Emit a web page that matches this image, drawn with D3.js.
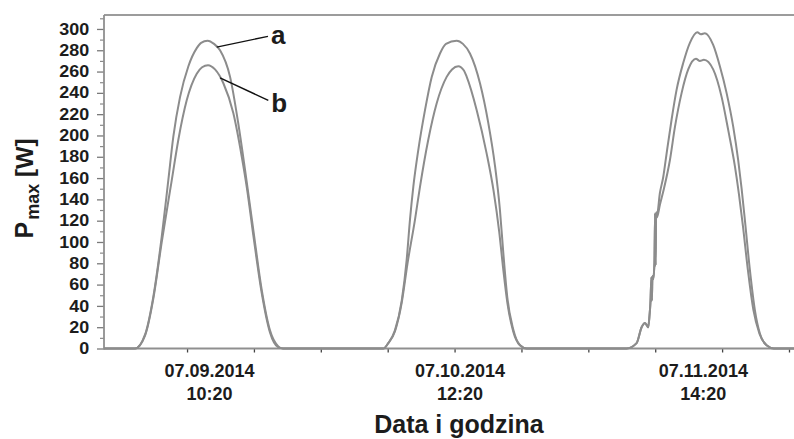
<!DOCTYPE html>
<html><head><meta charset="utf-8">
<script src="https://cdn.jsdelivr.net/npm/d3@7"></script>
<style>
html,body{margin:0;padding:0;background:#fff;}
svg{display:block;}
text{font-family:"Liberation Sans",Arial,sans-serif;font-weight:bold;fill:#1c1c1c;}
</style></head><body>
<svg id="chart" width="794" height="439"></svg>
<script>
// time axis in hours (concatenated measurement days), power in W
const seriesA = [
[-1.45,0],[1.34,0],[2.23,13],[2.98,49],[3.73,105],[4.32,158],[4.77,199],[5.37,236],[6.12,265],[6.87,282],[7.26,287],[7.84,289],[8.42,286],[8.96,280],[9.86,255],[10.60,211],[11.20,168],[11.95,111],[12.70,55],[13.44,17],[14.19,2],[14.61,0],
[23.61,0],[24.05,5],[24.65,17],[25.26,45],[25.70,83],[26.00,121],[26.30,152],[26.74,186],[27.35,224],[27.95,255],[28.69,277],[29.23,286],[30.19,289],[30.75,286],[31.38,277],[32.28,249],[33.02,212],[33.62,172],[34.07,130],[34.37,90],[34.73,48],[35.26,18],[35.87,3],[36.47,0],
[45.43,0],[46.33,5],[46.78,20],[47.08,24],[47.37,20],[47.48,30],[47.57,43],[47.66,67],[47.70,45],[47.75,68],[47.82,65],[47.93,80],[47.99,127],[48.03,78],[48.08,128],[48.15,125],[48.42,146],[48.72,161],[49.02,183],[49.47,215],[49.92,243],[50.51,268],[51.11,287],[51.77,297],[52.10,295],[52.46,296],[53.20,285],[53.80,265],[54.40,240],[55.00,208],[55.44,177],[55.75,150],[56.04,121],[56.49,74],[56.94,36],[57.39,14],[57.99,3],[58.65,0],[60.45,0]
];
const seriesB = [
[-1.45,0],[1.34,0],[2.23,12],[2.98,47],[3.73,100],[4.63,158],[5.22,196],[5.97,233],[6.87,258],[7.35,264],[7.88,266],[8.51,262],[9.26,249],[10.15,221],[10.91,180],[11.38,150],[11.95,106],[12.70,52],[13.44,15],[14.19,1],[14.61,0],
[23.61,0],[24.05,5],[24.65,16],[25.26,43],[25.78,80],[26.45,121],[26.90,152],[27.64,196],[28.39,230],[29.29,255],[29.77,262],[30.33,265],[30.84,261],[31.09,255],[31.98,224],[32.88,183],[33.50,148],[34.00,110],[34.35,76],[34.75,42],[35.26,16],[35.87,3],[36.47,0],
[45.43,0],[46.33,5],[46.78,20],[47.08,24],[47.37,20],[47.48,30],[47.57,43],[47.66,67],[47.70,45],[47.75,68],[47.82,65],[47.93,80],[47.99,127],[48.03,78],[48.08,126],[48.15,123],[48.42,135],[48.78,150],[49.32,177],[49.77,208],[50.37,240],[50.96,262],[51.65,272],[52.01,270],[52.37,271],[53.20,262],[53.96,236],[54.55,205],[55.15,171],[55.51,145],[55.87,115],[56.31,74],[56.81,36],[57.35,14],[57.99,3],[58.65,0],[60.45,0]
];
const yTickValues = [0,20,40,60,80,100,120,140,160,180,200,220,240,260,280,300];
const yMinorTickValues = [10,30,50,70,90,110,130,150,170,190,210,230,250,270,290,310];
const xTickValues = [6,12,18,24,30,36,42,48,54,60];
const dayLabels = ["07.09.2014","07.10.2014","07.11.2014"];
const timeLabels = ["10:20","12:20","14:20"];
const labelHours = [8.02,30.48,52.32];
const annotations = [
  {name:"a", from:[8.66,283], to:[13.26,293]},
  {name:"b", from:[8.96,254], to:[13.29,233]}
];
const yTitleMain = "P", yTitleSub = "max", yTitleUnit = " [W]";
const xTitle = "Data i godzina";

const svg = d3.select("#chart");
const x = d3.scaleLinear().domain([-1.45,60.45]).range([104,794]);
const y = d3.scaleLinear().domain([0,313.1]).range([348.5,15]);
const axisGrey = "#8f8f8f";

// frame: top line
svg.append("line").attr("x1",104).attr("x2",794).attr("y1",y(313.1)).attr("y2",y(313.1))
  .attr("stroke","#9c9c9c").attr("stroke-width",2);

// y axis
const gy = svg.append("g").attr("transform","translate(104,0)");
gy.call(d3.axisLeft(y).tickValues(yTickValues).tickSize(7).tickPadding(0));
gy.select(".domain").remove();
gy.selectAll(".tick line").attr("stroke","#7a7a7a").attr("stroke-width",1.3);
gy.selectAll(".tick text").attr("x",-13.2).attr("font-size",16)
  .attr("transform","scale(1.12,1)").attr("fill","#1c1c1c")
  .style("font-family","'Liberation Sans',Arial,sans-serif").style("font-weight","bold");
const gym = svg.append("g").attr("transform","translate(104,0)");
gym.call(d3.axisLeft(y).tickValues(yMinorTickValues).tickSize(4).tickFormat(""));
gym.select(".domain").remove();
gym.selectAll(".tick line").attr("stroke","#8a8a8a").attr("stroke-width",1.2);
svg.append("line").attr("x1",104).attr("x2",104).attr("y1",y(313.1)).attr("y2",y(0)+1)
  .attr("stroke",axisGrey).attr("stroke-width",1.8);

// x axis
const gx = svg.append("g").attr("transform",`translate(0,${y(0)})`);
gx.call(d3.axisBottom(x).tickValues(xTickValues).tickSize(4).tickFormat(""));
gx.select(".domain").remove();
gx.selectAll(".tick line").attr("stroke","#444").attr("stroke-width",1.3);
svg.append("line").attr("x1",104).attr("x2",794).attr("y1",y(0)).attr("y2",y(0))
  .attr("stroke",axisGrey).attr("stroke-width",2);

// date / time labels
labelHours.forEach((h,i)=>{
  const t = svg.append("text").attr("text-anchor","middle").attr("font-size",18);
  t.append("tspan").attr("x",x(h)).attr("y",376.5).text(dayLabels[i]);
  t.append("tspan").attr("x",x(h)).attr("y",400).text(timeLabels[i]);
});

// axis titles
svg.append("text").attr("x",x(30.48)-1).attr("y",433).attr("text-anchor","middle")
  .attr("font-size",25).text(xTitle);
const yt = svg.append("text").attr("transform","translate(33,238.5) rotate(-90)")
  .attr("font-size",25);
yt.append("tspan").text(yTitleMain);
yt.append("tspan").attr("font-size",18).attr("dy",6).attr("dx",2).text(yTitleSub);
yt.append("tspan").attr("font-size",24).attr("dy",-6).text(yTitleUnit);

// curves
const line = d3.line().x(d=>x(d[0])).y(d=>y(d[1])).curve(d3.curveMonotoneX);
[seriesB, seriesA].forEach(s=>{
  svg.append("path").datum(s).attr("d",line).attr("fill","none")
    .attr("stroke","#8c8c8c").attr("stroke-width",2).attr("stroke-linejoin","round");
});

// annotations
annotations.forEach(a=>{
  svg.append("line").attr("x1",x(a.from[0])).attr("y1",y(a.from[1]))
    .attr("x2",x(a.to[0])).attr("y2",y(a.to[1])).attr("stroke","#111").attr("stroke-width",1.4);
  svg.append("text").attr("x",x(a.to[0])+3).attr("y",y(a.to[1])+(a.name==="a"?7.5:11.5))
    .attr("font-size",26).text(a.name);
});
</script>
</body></html>
